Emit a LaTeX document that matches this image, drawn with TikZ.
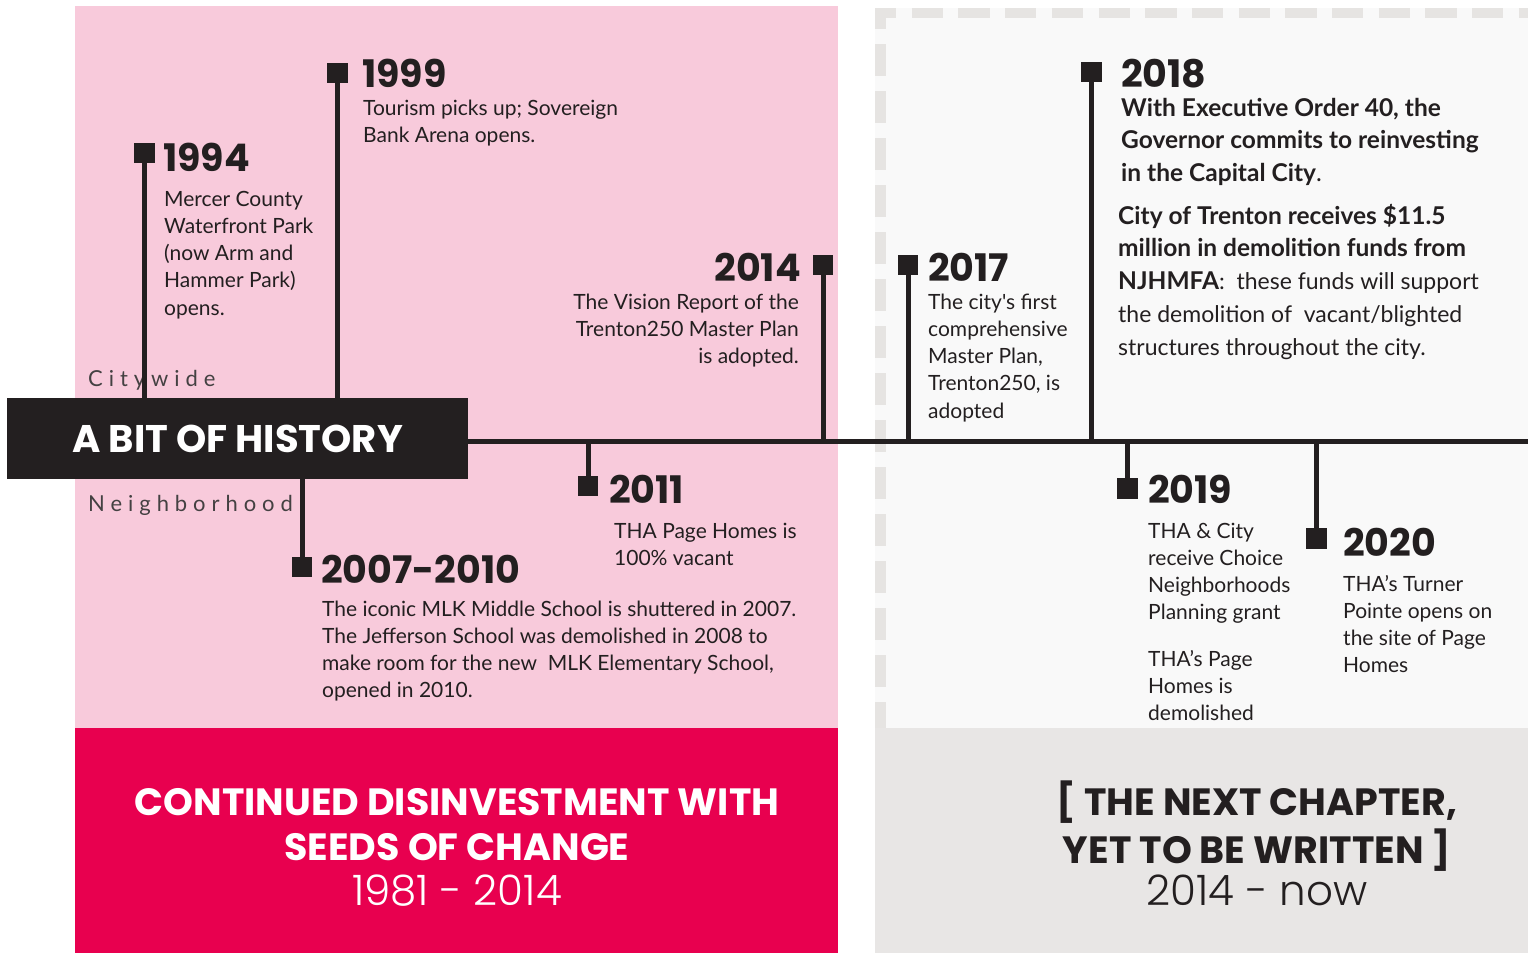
\documentclass[tikz,border=0pt]{standalone}
\usepackage{fontspec}
\setmainfont{Lato}
\newfontfamily\bodyfont{Lato}
\newfontfamily\popfont{Poppins}
\newfontfamily\poplight{Poppins Light}
\definecolor{ink}{HTML}{231F20}
\definecolor{blush}{HTML}{F8CADB}
\definecolor{crimson}{HTML}{E8004F}
\definecolor{mist}{HTML}{F9F9F9}
\definecolor{dashgray}{HTML}{E6E4E2}
\definecolor{fog}{HTML}{E8E6E5}
% a block of lines whose baseline is that of its first line
\newcommand\lineblock[2]{\begin{tabular}[t]{@{}#1@{}}#2\end{tabular}}
\tikzset{
  marker/.style={fill=ink, draw=none, minimum size=20.5pt, inner sep=0pt},
  stem/.style={draw=ink, line width=5pt},
  year/.style={font=\popfont\bfseries\fontsize{38}{38}\selectfont, text=ink, inner sep=0pt},
  body/.style={font=\bodyfont\fontsize{21}{27.3}\selectfont, text=ink, inner sep=0pt},
  bigbody/.style={font=\bodyfont\fontsize{23}{32.8}\selectfont, text=ink, inner sep=0pt},
  spaced/.style={font=\bodyfont\addfontfeature{LetterSpace=27}\fontsize{22}{22}\selectfont, text=ink!85, inner sep=0pt},
  banner/.style={font=\popfont\bfseries\fontsize{38}{45}\selectfont, inner sep=0pt},
  span/.style={font=\poplight\fontsize{42}{42}\selectfont, inner sep=0pt},
}
\begin{document}
\begin{tikzpicture}[x=1pt,y=-1pt]
\useasboundingbox (0,0) rectangle (1528,953);

% panels
\fill[blush] (75,6) rectangle (838,728);
\fill[crimson] (75,728) rectangle (838,953);
\fill[mist] (875,8) rectangle (1528,728);
\fill[fog] (875,728) rectangle (1528,953);

% dashed frame of the open panel
\fill[dashgray] (875,8) rectangle (896,18);
\fill[dashgray] (875,8) rectangle (886,29);
\draw[dashgray, line width=10pt, dash pattern=on 31.3pt off 15.4pt] (911.7,13) -- (1528,13);
\draw[dashgray, line width=11pt, dash pattern=on 32pt off 15pt] (880.5,44) -- (880.5,728);

% title block and timeline
\node[fill=ink, text=white, minimum width=461pt, minimum height=81pt, inner sep=0pt,
      font=\popfont\bfseries\fontsize{38.5}{38.5}\selectfont] (title) at (237.5,438.5) {A BIT OF HISTORY};
\coordinate (tlend) at (1528,441);
\draw[stem] (title.east |- tlend) -- (tlend);

\node[spaced, anchor=base west] (city) at (88,386) {Citywide};
\node[spaced, anchor=base west] (hood) at (88,511) {Neighborhood};

% ---- citywide events (above the line)
\node[marker] (m1994) at (144.5,153) {};
\draw[stem] (m1994.south) -- (m1994.south |- title.north);
\node[year, anchor=base west] (y1994) at (163,171) {1994};
\node[body, anchor=base west] (t1994) at (164,206)
  {\lineblock{l}{Mercer County\\Waterfront Park\\(now Arm and\\Hammer Park)\\opens.}};

\node[marker] (m1999) at (337.5,73) {};
\draw[stem] (m1999.south) -- (m1999.south |- title.north);
\node[year, anchor=base west] (y1999) at (362,87) {1999};
\node[body, anchor=base west] (t1999) at (363,115)
  {\lineblock{l}{Tourism picks up; Sovereign\\Bank Arena opens.}};

\node[marker] (m2014) at (823,265) {};
\draw[stem] (m2014.south) -- (m2014.south |- tlend);
\node[year, anchor=base east] (y2014) at (801,281) {2014};
\node[body, anchor=base east] (t2014) at (799,309)
  {\lineblock{r}{The Vision Report of the\\Trenton250 Master Plan\\is adopted.}};

\node[marker] (m2017) at (908,265) {};
\draw[stem] (m2017.south) -- (m2017.south |- tlend);
\node[year, anchor=base west] (y2017) at (928,281) {2017};
\node[body, anchor=base west] (t2017) at (928,309)
  {\lineblock{l}{The city's first\\comprehensive\\Master Plan,\\Trenton250, is\\adopted}};

\node[marker] (m2018) at (1091.5,72) {};
\draw[stem] (m2018.south) -- (m2018.south |- tlend);
\node[year, anchor=base west] (y2018) at (1121,87) {2018};
\node[bigbody, anchor=base west] (t2018a) at (1121,116)
  {\lineblock{l}{\fontsize{24.5}{33}\selectfont\bfseries With Executive Order 40, the\\
   \fontsize{24.5}{33}\selectfont\bfseries Governor commits to reinvesting\\
   \fontsize{24.5}{33}\selectfont\bfseries in the Capital City{\mdseries.}}};
\node[bigbody, anchor=base west] (t2018b) at (1118,224)
  {\lineblock{l}{\fontsize{24.5}{33}\selectfont\bfseries City of Trenton receives \$11.5\\
   \fontsize{24.5}{33}\selectfont\bfseries million in demolition funds from\\
   {\fontsize{24.5}{33}\selectfont\bfseries NJHMFA}:\ \ these funds will support\\
   the demolition of\ \ vacant/blighted\\
   structures throughout the city.}};

% ---- neighborhood events (below the line)
\node[marker] (m2011) at (588,486) {};
\draw[stem] (m2011.north) -- (m2011.north |- tlend);
\node[year, anchor=base west] (y2011) at (609,503) {2011};
\node[body, anchor=base west] (t2011) at (614,538)
  {\lineblock{l}{THA Page Homes is\\100\% vacant}};

\node[marker] (m2007) at (302,567) {};
\draw[stem] (m2007.north) -- (m2007.north |- title.south);
\node[year, anchor=base west] (y2007) at (321,583) {2007-2010};
\node[body, anchor=base west] (t2007) at (322,616)
  {\lineblock{l}{The iconic MLK Middle School is shuttered in 2007.\\The Jefferson School was demolished in 2008 to\\make room for the new\ \ MLK Elementary School,\\opened in 2010.}};

\node[marker] (m2019) at (1127.5,488.5) {};
\draw[stem] (m2019.north) -- (m2019.north |- tlend);
\node[year, anchor=base west] (y2019) at (1148,503) {2019};
\node[body, anchor=base west] (t2019a) at (1148,538)
  {\lineblock{l}{THA \& City\\receive Choice\\Neighborhoods\\Planning grant}};
\node[body, anchor=base west] (t2019b) at (1148,666)
  {\lineblock{l}{THA’s Page\\Homes is\\demolished}};

\node[marker] (m2020) at (1316.5,538.5) {};
\draw[stem] (m2020.north) -- (m2020.north |- tlend);
\node[year, anchor=base west] (y2020) at (1343,556) {2020};
\node[body, anchor=base west] (t2020) at (1343,591)
  {\lineblock{l}{THA’s Turner\\Pointe opens on\\the site of Page\\Homes}};

% ---- era banners
\node[banner, text=white, anchor=base] (era1) at (457,815)
  {\lineblock{c}{CONTINUED DISINVESTMENT WITH\\SEEDS OF CHANGE}};
\node[span, text=white, anchor=base] (era1y) at (457,905) {1981 - 2014};
\node[banner, text=ink, anchor=base] (era2) at (1257,815)
  {\lineblock{c}{[ THE NEXT CHAPTER,\\YET TO BE WRITTEN ]}};
\node[span, text=ink, anchor=base] (era2y) at (1257,905) {2014 - now};
\end{tikzpicture}
\end{document}
